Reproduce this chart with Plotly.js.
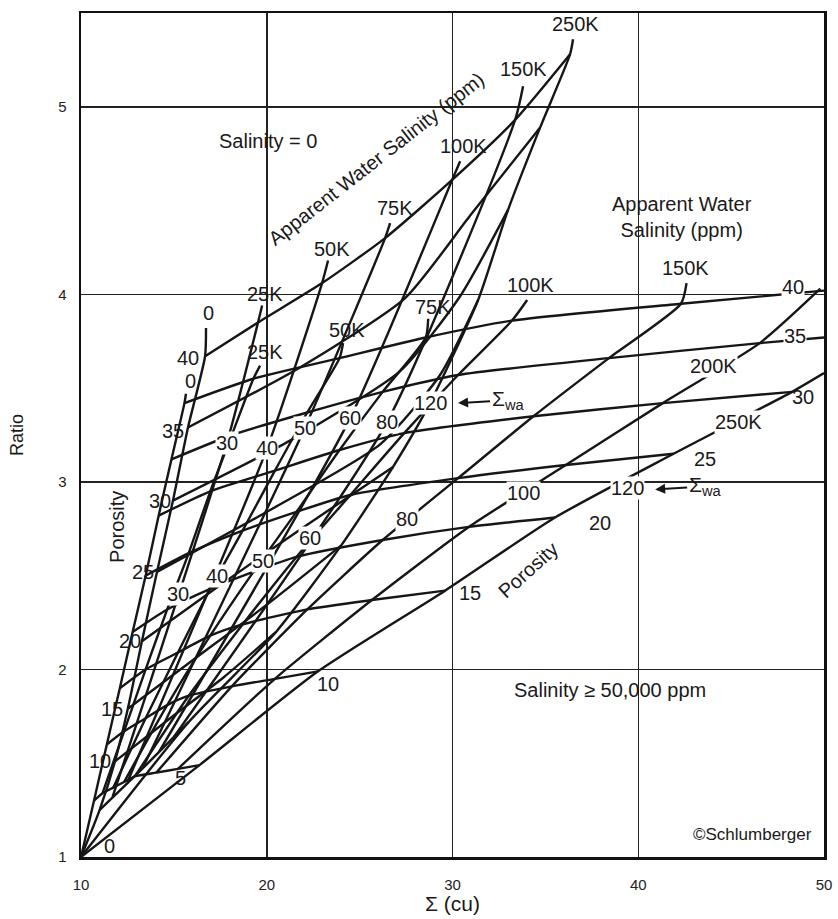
<!DOCTYPE html>
<html>
<head>
<meta charset="utf-8">
<script src="https://cdn.plot.ly/plotly-3.0.1.min.js"></script>
<style>html,body{margin:0;padding:0;background:#fff}#chart{width:838px;height:919px}</style>
</head>
<body>
<div id="chart"></div>
<script>
// ---------- Family "Salinity >= 50,000 ppm" (lower grid) ----------
const phiB_labels = [5, 10, 15, 20, 25, 30, 35, 40];
const phiB_sigma = [
  [10.70, 11.16, 11.74, 12.32, 12.90, 14.06, 15.22, 16.38],
  [11.39, 12.32, 13.48, 14.64, 15.80, 18.12, 20.44, 22.76],
  [12.09, 13.48, 15.22, 16.96, 18.70, 22.18, 25.66, 29.60],
  [12.78, 14.64, 16.96, 19.28, 21.60, 26.24, 30.88, 35.52],
  [13.48, 15.80, 18.70, 21.60, 24.50, 30.30, 36.10, 41.90],
  [14.18, 16.96, 20.44, 23.92, 27.40, 34.36, 41.32, 48.28],
  [14.87, 18.12, 22.18, 26.24, 30.30, 38.42, 46.54, 50.00],
  [15.57, 19.28, 23.92, 28.56, 33.20, 42.30, 50.00]
];
const phiB_ratio = [
  [1.30, 1.34, 1.37, 1.40, 1.43, 1.45, 1.47, 1.49],
  [1.60, 1.67, 1.74, 1.81, 1.86, 1.91, 1.95, 1.99],
  [1.90, 2.00, 2.09, 2.18, 2.24, 2.32, 2.37, 2.42],
  [2.20, 2.32, 2.43, 2.52, 2.60, 2.69, 2.76, 2.81],
  [2.50, 2.62, 2.74, 2.84, 2.93, 3.02, 3.09, 3.15],
  [2.82, 2.95, 3.06, 3.17, 3.26, 3.35, 3.42, 3.48],
  [3.12, 3.25, 3.37, 3.48, 3.57, 3.66, 3.74, 3.77],
  [3.42, 3.55, 3.66, 3.77, 3.86, 3.95, 4.02]
];
const swaB_labels = ["0", "25K", "50K", "75K", "100K", "150K", "200K", "250K"];
const swaB_sigma = [
  [10.00, 10.70, 11.39, 12.09, 12.78, 13.48, 14.18, 14.87, 15.57, 15.65],
  [11.16, 12.32, 13.48, 14.64, 15.80, 16.96, 18.12, 19.28, 19.64],
  [11.74, 13.48, 15.22, 16.96, 18.70, 20.44, 22.18, 23.92, 24.11],
  [12.32, 14.64, 16.96, 19.28, 21.60, 23.92, 26.24, 28.56, 28.69],
  [12.90, 15.80, 18.70, 21.60, 24.50, 27.40, 30.30, 33.20, 34.02],
  [14.06, 18.12, 22.18, 26.24, 30.30, 34.36, 38.42, 42.30, 42.60],
  [15.22, 20.44, 25.66, 30.88, 36.10, 41.32, 46.54, 49.80],
  [10.00, 16.38, 22.76, 29.60, 35.52, 41.90, 48.28, 50.00]
];
const swaB_ratio = [
  [1.00, 1.30, 1.60, 1.90, 2.20, 2.50, 2.82, 3.12, 3.42, 3.47],
  [1.34, 1.67, 2.00, 2.32, 2.62, 2.95, 3.25, 3.55, 3.62],
  [1.37, 1.74, 2.09, 2.43, 2.74, 3.06, 3.37, 3.66, 3.74],
  [1.40, 1.81, 2.18, 2.52, 2.84, 3.17, 3.48, 3.77, 3.87],
  [1.43, 1.86, 2.24, 2.60, 2.93, 3.26, 3.57, 3.86, 3.97],
  [1.45, 1.91, 2.32, 2.69, 3.02, 3.35, 3.66, 3.95, 4.06],
  [1.47, 1.95, 2.37, 2.76, 3.09, 3.42, 3.74, 4.03],
  [1.00, 1.49, 1.99, 2.42, 2.81, 3.15, 3.48, 3.58]
];

// ---------- Family "Salinity = 0" (upper grid) ----------
const phiA_labels = [5, 10, 15, 20, 25, 30, 35, 40];
const phiA_sigma = [
  [11.00, 13.40, 15.80],
  [11.83, 14.80, 17.70, 20.50],
  [12.52, 16.30, 20.20, 24.00],
  [13.28, 17.50, 22.00, 26.80],
  [14.09, 20.18, 26.10, 29.33, 31.38],
  [14.95, 21.25, 27.18, 30.41, 32.99],
  [15.76, 21.79, 27.45, 30.95, 34.72],
  [16.68, 19.53, 22.98, 26.37, 29.98, 33.37, 36.33]
];
const phiA_ratio = [
  [1.25, 1.48, 1.72],
  [1.51, 1.74, 1.96, 2.20],
  [1.79, 2.07, 2.36, 2.66],
  [2.15, 2.45, 2.76, 3.08],
  [2.52, 2.85, 3.20, 3.57, 3.97],
  [2.90, 3.22, 3.59, 3.99, 4.45],
  [3.29, 3.61, 3.98, 4.42, 4.89],
  [3.67, 3.85, 4.06, 4.30, 4.61, 4.93, 5.28]
];
const swaA_labels = ["0", "25K", "50K", "75K", "100K", "150K", "250K"];
const swaA_sigma = [
  [10.00, 11.00, 11.83, 12.52, 13.28, 14.09, 14.95, 15.76, 16.68, 16.73],
  [11.70, 17.86, 19.53, 19.75],
  [12.50, 20.02, 22.98, 23.30],
  [13.35, 22.06, 26.37, 26.64],
  [14.20, 24.49, 29.98, 30.41],
  [15.00, 26.48, 33.37, 33.80],
  [10.00, 15.80, 20.50, 24.00, 26.80, 28.79, 31.38, 32.99, 34.72, 36.33, 36.49]
];
const swaA_ratio = [
  [1.00, 1.25, 1.51, 1.79, 2.15, 2.52, 2.90, 3.29, 3.67, 3.82],
  [1.32, 3.21, 3.85, 3.94],
  [1.40, 3.18, 4.06, 4.18],
  [1.48, 3.29, 4.30, 4.38],
  [1.56, 3.34, 4.61, 4.71],
  [1.64, 3.32, 4.93, 5.11],
  [1.00, 1.72, 2.20, 2.66, 3.08, 3.42, 3.97, 4.45, 4.89, 5.28, 5.36]
];

// ---------- Label texts and their positions (data units) ----------
const lblA_top_text = ["0", "25K", "50K", "75K", "100K", "150K", "250K"];
const lblA_top_x = [16.84, 19.91, 23.52, 26.91, 30.57, 33.80, 36.60];
const lblA_top_y = [3.90, 4.00, 4.24, 4.46, 4.79, 5.20, 5.44];
const lblA_mid_text = ["30", "40", "50", "60", "80", "120"];
const lblA_mid_x = [17.86, 20.02, 22.06, 24.49, 26.48, 28.79];
const lblA_mid_y = [3.21, 3.18, 3.29, 3.34, 3.32, 3.42];
const lblA_phi_text = ["10", "15", "20", "25", "30", "35", "40"];
const lblA_phi_x = [11.02, 11.67, 12.64, 13.34, 14.25, 14.95, 15.76];
const lblA_phi_y = [1.51, 1.79, 2.15, 2.52, 2.90, 3.27, 3.66];

const lblB_top_text = ["0", "25K", "50K", "75K", "100K", "150K", "200K", "250K"];
const lblB_top_x = [15.87, 19.91, 24.32, 28.96, 34.18, 42.53, 44.03, 45.38];
const lblB_top_y = [3.54, 3.69, 3.81, 3.93, 4.05, 4.14, 3.62, 3.32];
const lblB_mid_text = ["30", "40", "50", "60", "80", "100", "120"];
const lblB_mid_x = [15.22, 17.32, 19.80, 22.33, 27.56, 33.80, 39.40];
const lblB_mid_y = [2.40, 2.50, 2.58, 2.70, 2.80, 2.94, 2.97];
const lblB_phi_text = ["5", "10", "15", "20", "25", "30", "35", "40"];
const lblB_phi_x = [15.33, 23.30, 30.95, 37.95, 43.60, 48.88, 48.45, 48.34];
const lblB_phi_y = [1.42, 1.92, 2.41, 2.78, 3.12, 3.45, 3.78, 4.04];

const xTicks = [10, 20, 30, 40, 50];
const yTicks = [1, 2, 3, 4, 5];

// ---------- Build traces ----------
const INK = '#161616';
const traces = [];
function addLines(xs, ys, w) {
  for (let i = 0; i < xs.length; i++) {
    traces.push({
      x: xs[i], y: ys[i], type: 'scatter', mode: 'lines',
      line: {color: INK, width: w, shape: 'spline', smoothing: 0.6},
      hoverinfo: 'skip', showlegend: false
    });
  }
}
addLines(phiB_sigma, phiB_ratio, 2.4);
addLines(swaB_sigma, swaB_ratio, 2.4);
addLines(phiA_sigma, phiA_ratio, 2.4);
addLines(swaA_sigma, swaA_ratio, 2.4);

const FONT = 'Liberation Sans Narrow, Liberation Sans, Arial, sans-serif';
const ann = [];
function lab(text, x, y, size, bg, extra) {
  const a = {x: x, y: y, xref: 'x', yref: 'y', text: text, showarrow: false,
    font: {family: FONT, size: size, color: '#1a1a1a'}, borderpad: 0};
  if (bg) a.bgcolor = '#ffffff';
  Object.assign(a, extra || {});
  ann.push(a);
}
for (let i = 0; i < lblA_top_text.length; i++) lab(lblA_top_text[i], lblA_top_x[i], lblA_top_y[i], 20, false);
for (let i = 0; i < lblA_mid_text.length; i++) lab(lblA_mid_text[i], lblA_mid_x[i], lblA_mid_y[i], 20, true);
for (let i = 0; i < lblA_phi_text.length; i++) lab(lblA_phi_text[i], lblA_phi_x[i], lblA_phi_y[i], 20, false);
for (let i = 0; i < lblB_top_text.length; i++) lab(lblB_top_text[i], lblB_top_x[i], lblB_top_y[i], 20, i >= 6);
for (let i = 0; i < lblB_mid_text.length; i++) lab(lblB_mid_text[i], lblB_mid_x[i], lblB_mid_y[i], 20, true);
for (let i = 0; i < lblB_phi_text.length; i++) lab(lblB_phi_text[i], lblB_phi_x[i], lblB_phi_y[i], 20, i >= 6);
lab('0', 11.56, 1.06, 20, false);

// Sigma_wa arrows
ann.push({x: 30.30, y: 3.42, xref: 'x', yref: 'y', text: 'Σ<sub>wa</sub>', showarrow: true,
  ax: 50, ay: -3, arrowhead: 2, arrowsize: 1, arrowwidth: 2, arrowcolor: INK,
  font: {family: FONT, size: 21, color: '#1a1a1a'}});
ann.push({x: 40.91, y: 2.96, xref: 'x', yref: 'y', text: 'Σ<sub>wa</sub>', showarrow: true,
  ax: 50, ay: -3, arrowhead: 2, arrowsize: 1, arrowwidth: 2, arrowcolor: INK,
  font: {family: FONT, size: 21, color: '#1a1a1a'}});

// Descriptive texts
lab('Salinity = 0', 20.07, 4.82, 20, false);
lab('Apparent Water Salinity (ppm)', 25.89, 4.72, 20, false, {textangle: -38});
lab('Apparent Water<br>Salinity (ppm)', 42.36, 4.41, 20, false);
lab('Salinity ≥ 50,000 ppm', 38.49, 1.89, 20, false);
lab('©Schlumberger', 46.13, 1.12, 17, false);
lab('Porosity', 11.94, 2.76, 20, false, {textangle: -90});
lab('Porosity', 34.07, 2.53, 20, false, {textangle: -42});

const layout = {
  width: 838, height: 919,
  margin: {l: 81, r: 14, t: 13, b: 62},
  paper_bgcolor: '#fff', plot_bgcolor: '#fff',
  showlegend: false,
  font: {family: FONT, color: '#1a1a1a'},
  xaxis: {
    range: [10, 50], tickvals: xTicks,
    showgrid: true, gridcolor: '#222', gridwidth: 1.5, zeroline: false,
    showline: true, mirror: true, linecolor: '#111', linewidth: 2.5,
    ticks: '', ticklabelstandoff: 12, tickfont: {family: FONT, size: 15, color: '#222'},
    title: {text: 'Σ (cu)', font: {family: FONT, size: 21, color: '#1a1a1a'}, standoff: 4}
  },
  yaxis: {
    range: [1, 5.5], tickvals: yTicks,
    showgrid: true, gridcolor: '#222', gridwidth: 1.5, zeroline: false,
    showline: true, mirror: true, linecolor: '#111', linewidth: 2.5,
    ticks: '', ticklabelstandoff: 9, tickfont: {family: FONT, size: 15, color: '#222'},
    title: {text: 'Ratio', font: {family: FONT, size: 18, color: '#1a1a1a'}, standoff: 30}
  },
  annotations: ann
};
Plotly.newPlot('chart', traces, layout, {staticPlot: true, displayModeBar: false});
</script>
</body>
</html>
